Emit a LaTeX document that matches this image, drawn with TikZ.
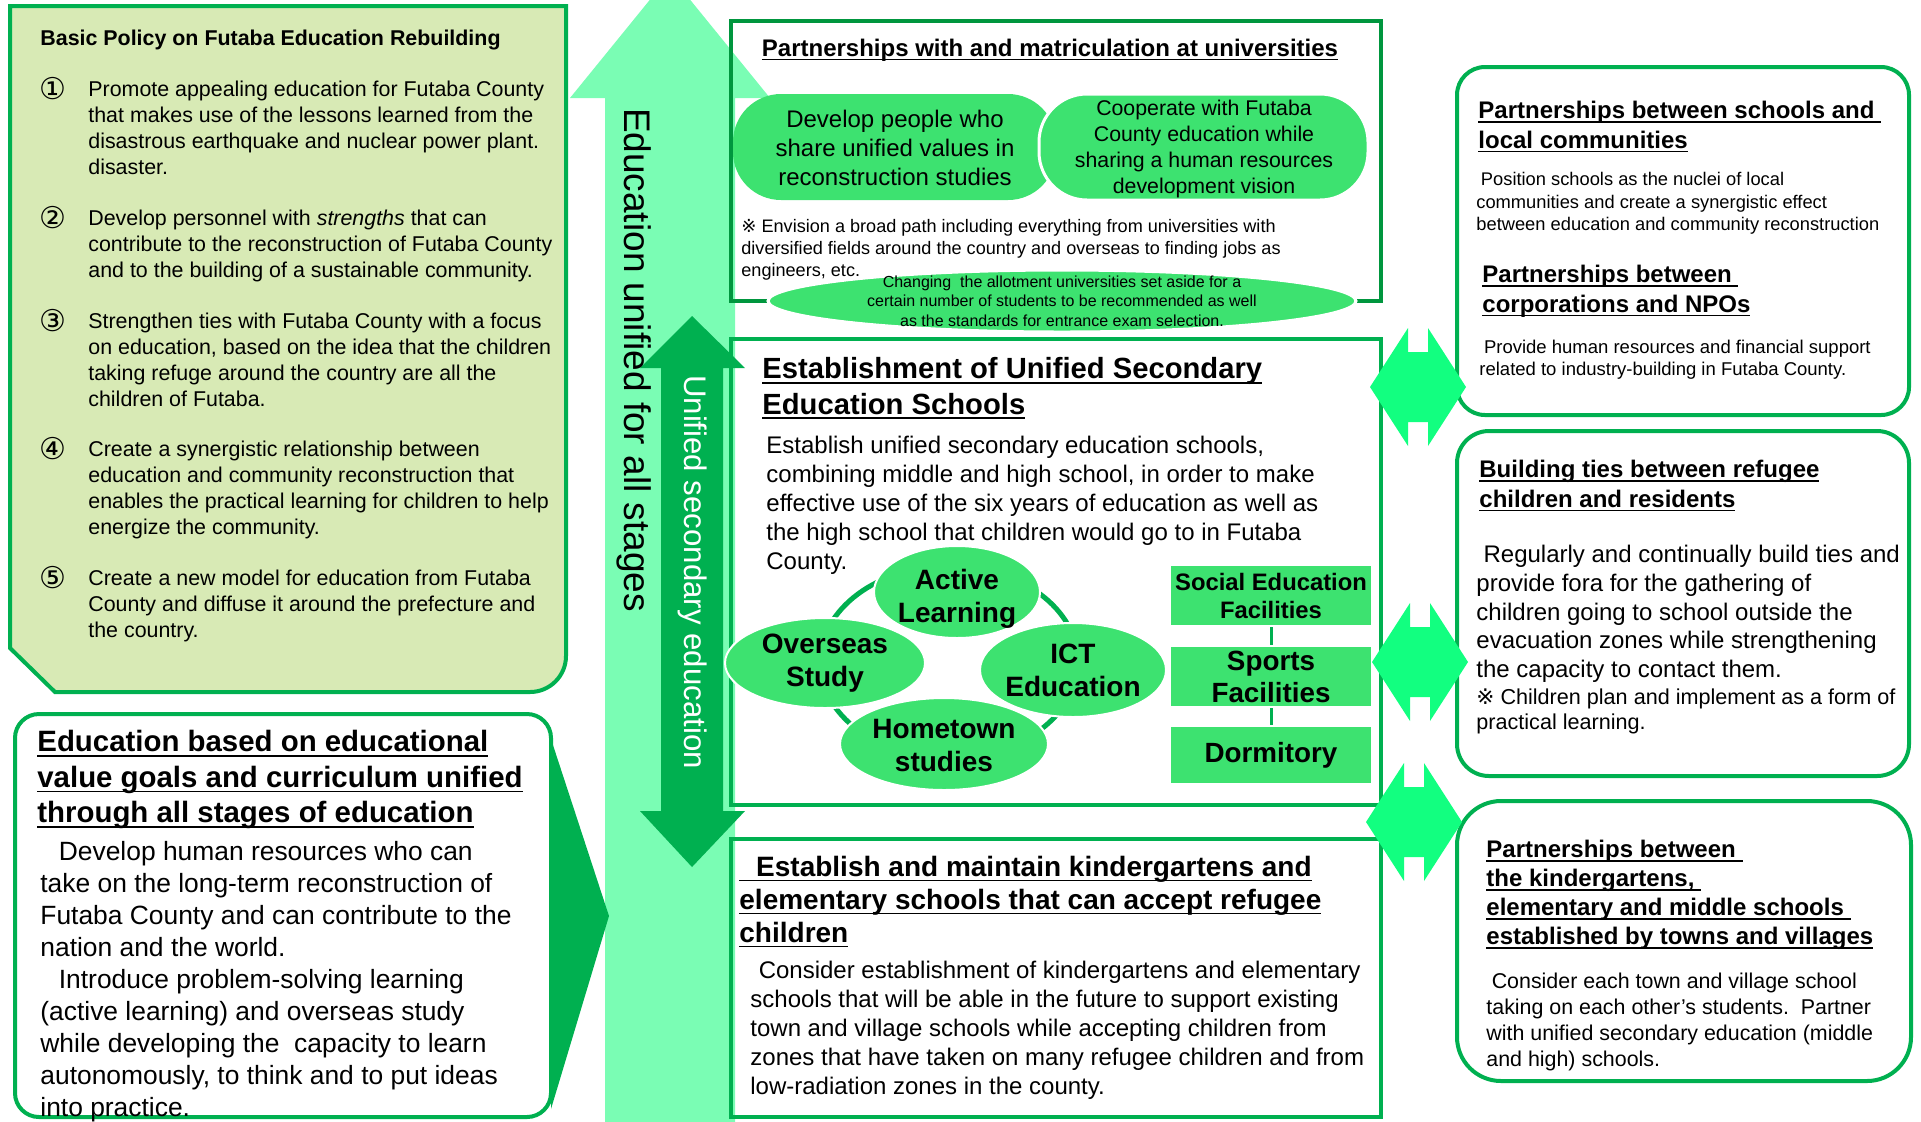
\documentclass[tikz,border=0pt]{standalone}
\usepackage{fontspec}
\setmainfont{Liberation Sans}
\newfontfamily\symfont{DejaVu Sans}
\usetikzlibrary{shapes.geometric}

\definecolor{framegreen}{RGB}{0,176,80}
\definecolor{deepgreen}{RGB}{0,150,62}
\definecolor{leafgreen}{RGB}{61,226,112}
\definecolor{paleshaft}{RGB}{122,253,180}
\definecolor{linkgreen}{RGB}{18,255,128}
\definecolor{policyfill}{RGB}{216,234,181}

\newcommand{\setfs}[2]{\fontsize{#1}{#2}\selectfont}
\newcommand{\undl}[1]{\leavevmode\setbox0=\hbox{#1}\rlap{\vrule width\wd0 height -0.11em depth 0.17em}\box0}
\newcommand{\linkpair}[2]{\fill[linkgreen] (#1-48,#2) -- (#1-10,#2-59) -- (#1-10,#2-35) -- (#1+10,#2-35) -- (#1+10,#2-59) -- (#1+48,#2) -- (#1+10,#2+59) -- (#1+10,#2+35) -- (#1-10,#2+35) -- (#1-10,#2+59) -- cycle;}

\begin{document}
\begin{tikzpicture}[x=0.5pt,y=-0.5pt,
    txt/.style={anchor=north west,inner sep=0pt,align=left},
    mid/.style={inner sep=0pt,align=center},
    num/.style={anchor=west,inner sep=0pt,font=\symfont\setfs{15}{15}},
    leaf/.style={fill=leafgreen,draw=white,line width=1pt},
    facility/.style={rectangle,fill=leafgreen,draw=white,line width=1pt,inner sep=0pt,align=center,minimum width=101pt}]

    \useasboundingbox (0,0) rectangle (1921,1121);
    \clip (0,0) rectangle (1921,1121);

    % long arrow behind everything
    \fill[paleshaft] (605,1130) -- (605,98) -- (570,98) -- (670,-25) -- (770,98) -- (735,98) -- (735,1130) -- cycle;

    % basic policy
    \draw[framegreen,line width=2pt,fill=policyfill] (10,6) -- (566,6) -- (566,400) [rounded corners=18pt] -- (566,692) -- (300,692) [sharp corners] -- (55,692) -- (10,648) -- cycle;
    \node[txt,font=\setfs{10.7}{13}\bfseries] (pol) at (40,30) {Basic Policy on Futaba Education Rebuilding};
    \node[num] (n1) at (39,89) {①};
    \node[num] (n2) at (39,218) {②};
    \node[num] (n3) at (39,321) {③};
    \node[num] (n4) at (39,449) {④};
    \node[num] (n5) at (39,578) {⑤};
    \node[txt,font=\setfs{10.7}{12.85}] (p1) at (88,81) {Promote appealing education for Futaba County\\that makes use of the lessons learned from the\\disastrous earthquake and nuclear power plant.\\disaster.};
    \node[txt,font=\setfs{10.7}{12.85}] (p2) at (88,210) {Develop personnel with \textit{strengths} that can\\contribute to the reconstruction of Futaba County\\and to the building of a sustainable community.};
    \node[txt,font=\setfs{10.7}{12.85}] (p3) at (88,313) {Strengthen ties with Futaba County with a focus\\on education, based on the idea that the children\\taking refuge around the country are all the\\children of Futaba.};
    \node[txt,font=\setfs{10.7}{12.85}] (p4) at (88,441) {Create a synergistic relationship between\\education and community reconstruction that\\enables the practical learning for children to help\\energize the community.};
    \node[txt,font=\setfs{10.7}{12.85}] (p5) at (88,570) {Create a new model for education from Futaba\\County and diffuse it around the prefecture and\\the country.};

    % universities
    \draw[deepgreen,line width=2.4pt] (731,21) rectangle (1381,301);
    \node[mid,font=\setfs{12}{14.4}\bfseries] (uni) at (1050,50) {\undl{Partnerships with and matriculation at universities}};
    \fill[leafgreen,rounded corners=24pt] (733,94) rectangle (1056,200);
    \filldraw[fill=leafgreen,draw=white,line width=1.5pt,rounded corners=24pt] (1039,94) rectangle (1368,200);
    \node[mid,font=\setfs{12}{14.4}] (values) at (895,148) {Develop people who\\share unified values in\\reconstruction studies};
    \node[mid,font=\setfs{10.65}{12.9}] (vision) at (1204,149) {Cooperate with Futaba\\County education while\\sharing a human resources\\development vision};
    \node[txt,font=\setfs{9.05}{11}] (path) at (741,219) {{\symfont ※} Envision a broad path including everything from universities with\\diversified fields around the country and overseas to finding jobs as\\engineers, etc.};
    \filldraw[fill=leafgreen,draw=white,line width=1.5pt] (1062,301) ellipse [x radius=294,y radius=31];
    \node[mid,font=\setfs{8}{9.8}] (quota) at (1062,301) {Changing\ \ the allotment universities set aside for a\\certain number of students to be recommended as well\\as the standards for entrance exam selection.};

    % unified secondary schools
    \draw[framegreen,line width=2.4pt] (731,339) rectangle (1381,805);
    \node[txt,font=\setfs{14.6}{17.8}\bfseries] (sec) at (762,357) {\undl{Establishment of Unified Secondary}\\\undl{Education Schools}};
    \node[txt,font=\setfs{12}{14.4}] (secbody) at (766,436) {Establish unified secondary education schools,\\combining middle and high school, in order to make\\effective use of the six years of education as well as\\the high school that children would go to in Futaba\\County.};
    \draw[framegreen,line width=2.5pt] (949,662) ellipse [x radius=129,y radius=96];
    \filldraw[leaf] (825,663) ellipse [x radius=100,y radius=45];
    \filldraw[leaf] (957,592) ellipse [x radius=83,y radius=46];
    \filldraw[leaf] (1073,670) ellipse [x radius=93,y radius=47];
    \filldraw[leaf] (944,744) ellipse [x radius=104,y radius=46];
    \node[mid,font=\setfs{14}{16.5}\bfseries] (active) at (957,599) {Active\\Learning};
    \node[mid,font=\setfs{14}{16.5}\bfseries] (abroad) at (825,663) {Overseas\\Study};
    \node[mid,font=\setfs{14}{16.5}\bfseries] (ict) at (1073,670) {ICT\\Education};
    \node[mid,font=\setfs{14}{16.5}\bfseries] (home) at (944,745) {Hometown\\studies};
    \node[facility,minimum height=30.5pt,font=\setfs{11.9}{14}\bfseries] (social) at (1271,595.5) {Social Education\\Facilities};
    \node[facility,minimum height=30.5pt,font=\setfs{13.9}{16}\bfseries] (sports) at (1271,676.5) {Sports\\Facilities};
    \node[facility,minimum height=29pt,font=\setfs{13.9}{16}\bfseries] (dorm) at (1271,755) {Dormitory};
    \draw[framegreen,line width=1.5pt] (social) -- (sports);
    \draw[framegreen,line width=1.5pt] (sports) -- (dorm);

    % kindergartens
    \draw[framegreen,line width=2.4pt] (731,839) rectangle (1381,1117);
    \node[txt,font=\setfs{14}{16.5}\bfseries] (kin) at (739,856) {\undl{\hspace*{0.6em}Establish and maintain kindergartens and}\\\undl{elementary schools that can accept refugee}\\\undl{children}};
    \node[txt,font=\setfs{12}{14.4}] (kinbody) at (750,961) {\hspace*{0.35em}Consider establishment of kindergartens and elementary\\schools that will be able in the future to support existing\\town and village schools while accepting children from\\zones that have taken on many refugee children and from\\low-radiation zones in the county.};

    % curriculum
    \draw[framegreen,line width=2pt,rounded corners=12pt,fill=white] (15,714) rectangle (551,1117);
    \fill[framegreen] (551,739) -- (609,916) -- (551,1109) -- cycle;
    \node[txt,font=\setfs{14.7}{17.8}\bfseries] (curr) at (37,730) {\undl{Education based on educational}\\\undl{value goals and curriculum unified}\\\undl{through all stages of education}};
    \node[txt,font=\setfs{13.2}{16}] (currbody) at (40,841) {\hspace*{0.7em}Develop human resources who can\\take on the long-term reconstruction of\\Futaba County and can contribute to the\\nation and the world.\\\hspace*{0.7em}Introduce problem-solving learning\\(active learning) and overseas study\\while developing the\ \ capacity to learn\\autonomously, to think and to put ideas\\into practice.};

    % right column
    \draw[framegreen,line width=2pt,rounded corners=14pt,fill=white] (1457,67) rectangle (1909,415);
    \node[txt,font=\setfs{12}{14.7}\bfseries] (local) at (1478,101) {\undl{Partnerships between schools and\ }\\\undl{local communities}};
    \node[txt,font=\setfs{9.15}{11.3}] (localbody) at (1476,172) {\hspace*{0.25em}Position schools as the nuclei of local\\communities and create a synergistic effect\\between education and community reconstruction};
    \node[txt,font=\setfs{12}{14.7}\bfseries] (npo) at (1482,265) {\undl{Partnerships between\ }\\\undl{corporations and NPOs}};
    \node[txt,font=\setfs{9.25}{11}] (npobody) at (1479,340) {\hspace*{0.25em}Provide human resources and financial support\\related to industry-building in Futaba County.};

    \draw[framegreen,line width=2pt,rounded corners=16pt,fill=white] (1457,431) rectangle (1909,776);
    \node[txt,font=\setfs{12}{14.7}\bfseries] (ties) at (1479,460) {\undl{Building ties between refugee}\\\undl{children and residents}};
    \node[txt,font=\setfs{12}{14.3}] (tiesbody) at (1476,545) {\hspace*{0.3em}Regularly and continually build ties and\\provide fora for the gathering of\\children going to school outside the\\evacuation zones while strengthening\\the capacity to contact them.};
    \node[txt,font=\setfs{10.8}{12.9}] (tiesnote) at (1476,688) {{\symfont ※} Children plan and implement as a form of\\practical learning.};

    \draw[framegreen,line width=2pt,rounded corners=22pt,fill=white] (1457,801) rectangle (1911,1081);
    \node[txt,font=\setfs{12}{14.5}\bfseries] (towns) at (1486,840) {\undl{Partnerships between\ }\\\undl{the kindergartens,\ }\\\undl{elementary and middle schools\ }\\\undl{established by towns and villages}};
    \node[txt,font=\setfs{10.7}{12.9}] (townsbody) at (1486,973) {\hspace*{0.25em}Consider each town and village school\\taking on each other’s students.\ \ Partner\\with unified secondary education (middle\\and high) schools.};

    % secondary arrow and the labels on the arrows
    \fill[framegreen] (692,316) -- (745,368) -- (723,368) -- (723,811) -- (745,811) -- (692,867) -- (640,811) -- (661,811) -- (661,368) -- (640,368) -- cycle;
    \node[rotate=-90,inner sep=0pt,text=white,font=\setfs{15.6}{18}] (usec) at (693,572) {Unified secondary education};
    \node[rotate=-90,inner sep=0pt,font=\setfs{18.5}{22}] (uall) at (634,360) {Education unified for all stages};

    \linkpair{1418}{387}
    \linkpair{1420}{662}
    \linkpair{1414}{822}
\end{tikzpicture}
\end{document}
